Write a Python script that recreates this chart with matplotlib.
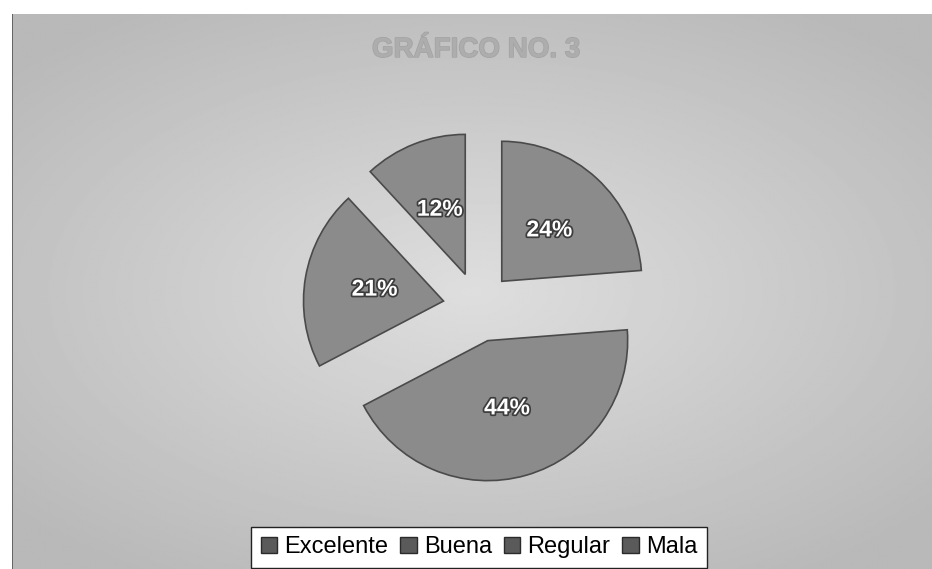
import numpy as np
import matplotlib.pyplot as plt
import matplotlib.patheffects as pe
from matplotlib.patches import Patch

# Chart data
categories = ['Excelente', 'Buena', 'Regular', 'Mala']
percentages = [24, 44, 21, 12]
title = 'GRÁFICO NO. 3'

W, H = 932, 569
fig = plt.figure(figsize=(W / 100, H / 100), dpi=100)
fig.patch.set_facecolor('white')
plt.rcParams['font.family'] = ['Liberation Sans', 'DejaVu Sans']

# Chart area background: grey with a lighter middle
bg_ax = fig.add_axes([12 / W, 0, 1 - 12 / W, 1 - 14 / H])
bg_ax.set_axis_off()
yy, xx = np.mgrid[-1:1:300j, -1:1:500j]
shade = 0.87 - 0.12 * np.clip(np.sqrt((xx / 1.1) ** 2 + (yy / 1.0) ** 2), 0, 1.2)
bg_ax.imshow(shade, cmap='gray', vmin=0, vmax=1, aspect='auto',
             extent=[0, 1, 0, 1], interpolation='bilinear')
bg_ax.plot([0, 0], [0, 1], color='#555555', linewidth=1.2)
bg_ax.set_xlim(0, 1)
bg_ax.set_ylim(0, 1)

fig.text(476 / W, 1 - 50 / H, title, ha='center', va='center',
         fontsize=20, fontweight='bold', color='#adadad',
         path_effects=[pe.withStroke(linewidth=1.0, foreground='#a2a2a2')])

# Pie
cx, cy, half = 478, 307, 200
R = 140
ax = fig.add_axes([(cx - half) / W, (H - cy - half) / H, 2 * half / W, 2 * half / H])
ax.set_axis_off()
wedges, _ = ax.pie(percentages, startangle=90, counterclock=False,
                   explode=[0.25] * len(percentages),
                   colors=['#8b8b8b'] * len(percentages),
                   wedgeprops=dict(edgecolor='#4a4a4a', linewidth=1.2))
ax.set_xlim(-half / R, half / R)
ax.set_ylim(-half / R, half / R)

for w, pct in zip(wedges, percentages):
    mid = np.deg2rad((w.theta1 + w.theta2) / 2)
    x = w.center[0] + 0.5 * np.cos(mid)
    y = w.center[1] + 0.5 * np.sin(mid)
    ax.text(x, y, f'{pct}%', ha='center', va='center', fontsize=16.5,
            fontweight='bold', color='white',
            path_effects=[pe.withStroke(linewidth=2.5, foreground='#3c3c3c')])

handles = [Patch(facecolor='#5a5a5a', edgecolor='#2a2a2a') for _ in categories]
leg = fig.legend(handles, categories, loc='upper center', ncol=4,
                 bbox_to_anchor=(479 / W, 1 - 527 / H), fontsize=17,
                 frameon=True, fancybox=False, handlelength=0.7,
                 handleheight=0.7, handletextpad=0.3, columnspacing=0.5,
                 borderpad=0.4, borderaxespad=0)
leg.get_frame().set_facecolor('white')
leg.get_frame().set_edgecolor('#222222')
leg.get_frame().set_alpha(1)

fig.savefig('out.png', dpi=100)
